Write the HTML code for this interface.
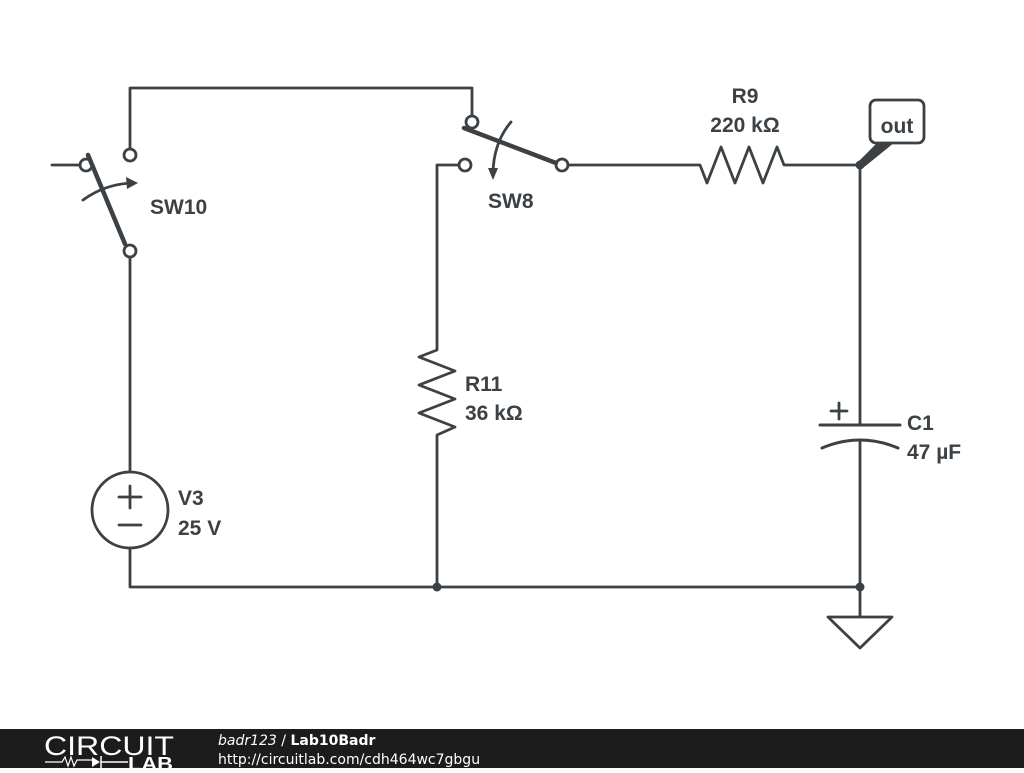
<!DOCTYPE html>
<html><head><style>
body{margin:0;width:1024px;height:768px;background:#fff;overflow:hidden;font-family:"Liberation Sans",sans-serif}
</style></head><body>
<svg width="1024" height="768" viewBox="0 0 1024 768" xmlns="http://www.w3.org/2000/svg">
<g stroke="#3b4145" stroke-width="2.8" fill="none" stroke-linecap="round" stroke-linejoin="round">
<path d="M130 149V88H472V116"/>
<path d="M52 165H80"/>
<circle cx="86" cy="165" r="6"/>
<circle cx="130" cy="155" r="6"/>
<circle cx="130" cy="251" r="6"/>
<path d="M88 155L125 244" stroke-width="4.5"/>
<path d="M83 200Q105 184 132 183"/>
<path d="M130 257V472M130 548V587H860"/>
<circle cx="130" cy="510" r="38"/>
<path d="M119 497H141M130 486V508M119 525H141"/>
<circle cx="472" cy="122" r="6"/>
<circle cx="465" cy="165" r="6"/>
<circle cx="562" cy="165" r="6"/>
<path d="M464 128L556 163" stroke-width="4.5"/>
<path d="M511 122Q494 142 493 172"/>
<path d="M459 165H437V350L419 357L455 371L419 385L455 399L419 413L455 427L437 435V587"/>
<path d="M568 165H700L707 183L721 147L735 183L749 147L763 183L777 147L784 165H860V425"/>
<path d="M820 425H900" stroke-width="3"/>
<path d="M822 448Q860 432 898 448" stroke-width="3"/>
<path d="M831 411H847M839 403V419"/>
<path d="M860 441V617"/>
<path d="M828 617H892L860 648Z"/>
<rect x="870" y="100" width="54" height="43" rx="6"/>
</g>
<g fill="#3b4145">
<path d="M138 183L126 177L127 189Z"/>
<path d="M493 180L488 168L498 168Z"/>
<circle cx="437" cy="587" r="4.5"/>
<circle cx="860" cy="587" r="4.5"/>
<circle cx="860" cy="165" r="4.5"/>
<path d="M857 163L878 142L895 142L863 168Z"/>
</g>
<g fill="#3b4145" font-family="Liberation Sans,sans-serif" font-weight="bold" font-size="21">
<text x="150" y="214">SW10</text>
<text x="488" y="208">SW8</text>
<text x="745" y="103" text-anchor="middle">R9</text>
<text x="745" y="132" text-anchor="middle">220 kΩ</text>
<text x="465" y="391">R11</text>
<text x="465" y="420">36 kΩ</text>
<text x="907" y="430">C1</text>
<text x="907" y="459">47 µF</text>
<text x="178" y="505">V3</text>
<text x="178" y="535">25 V</text>
<text x="897" y="133" text-anchor="middle">out</text>
</g>
<rect x="0" y="729" width="1024" height="39" fill="#1c1c1c"/>
<text x="44" y="755" fill="#fff" font-size="27" font-family="Liberation Sans,sans-serif" textLength="130" lengthAdjust="spacingAndGlyphs">CIRCUIT</text>
<path d="M45 762H62L65 757L68 766L71 757L74 766L77 760H92" stroke="#fff" stroke-width="1.2" fill="none"/>
<path d="M92 757L100 762L92 767Z" fill="#fff"/>
<path d="M101 756V768M101 762H128" stroke="#fff" stroke-width="1.5"/>
<text x="128" y="770" fill="#fff" font-size="18" font-weight="bold" font-family="Liberation Sans,sans-serif" textLength="45" lengthAdjust="spacingAndGlyphs">LAB</text>
<text x="218" y="745" fill="#fff" font-size="14" font-family="DejaVu Sans,sans-serif"><tspan font-style="italic">badr123</tspan> / <tspan font-weight="bold">Lab10Badr</tspan></text>
<text x="218" y="764" fill="#fff" font-size="14" font-family="DejaVu Sans,sans-serif">http://circuitlab.com/cdh464wc7gbgu</text>
</svg>
</body></html>
